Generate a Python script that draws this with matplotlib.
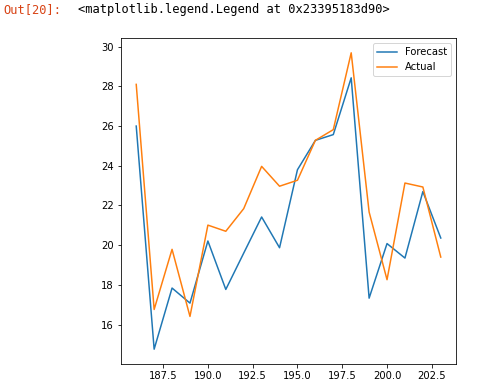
import matplotlib
matplotlib.use("Agg")
import matplotlib.pyplot as plt

# x positions (time index) and the two series
steps = list(range(186, 204))
forecast = [26.0, 14.76, 17.84, 17.08, 20.21, 17.77, 19.6, 21.42, 19.87,
            23.8, 25.28, 25.57, 28.43, 17.33, 20.08, 19.35, 22.7, 20.36]
actual = [28.1, 16.76, 19.79, 16.41, 21.01, 20.7, 21.84, 23.97, 22.97,
          23.27, 25.28, 25.82, 29.69, 21.67, 18.26, 23.13, 22.93, 19.4]

fig = plt.figure(figsize=(480 / 72, 387 / 72), dpi=72)
ax = fig.add_axes([121 / 480, 1 - 364 / 387, 335 / 480, 326 / 387])

ax.plot(steps, forecast, label="Forecast")
ax.plot(steps, actual, label="Actual")
ax.legend()

# notebook output line above the figure
fig.text(3 / 480, 1 - 10 / 387, "Out[20]:", color="#d84315",
         family="DejaVu Sans Mono", fontsize=12, va="center")
fig.text(78 / 480, 1 - 10 / 387,
         "<matplotlib.legend.Legend at 0x23395183d90>", color="black",
         family="DejaVu Sans Mono", fontsize=12, va="center")

fig.savefig("out.png", dpi=72)
